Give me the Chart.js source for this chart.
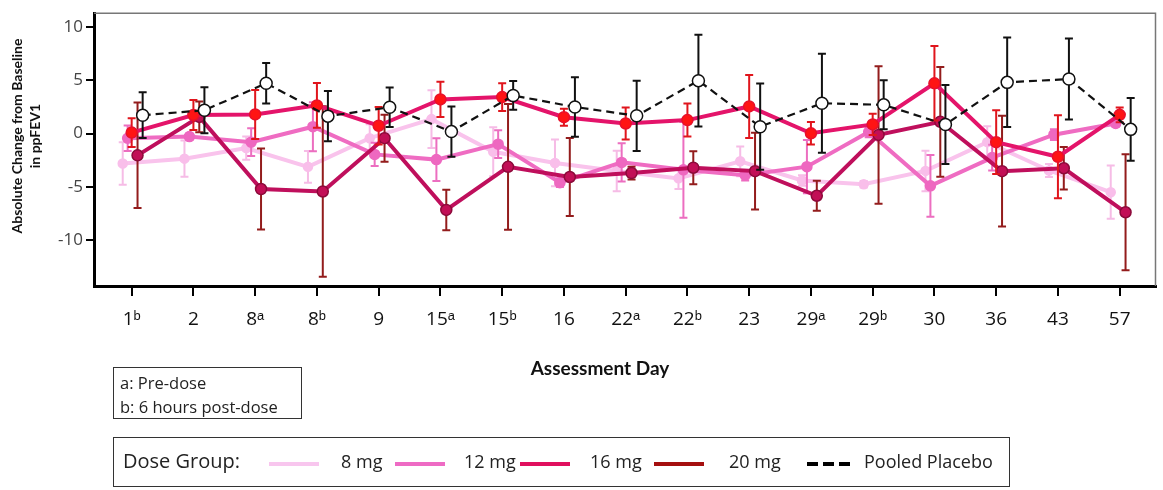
<!DOCTYPE html>
<html><head><meta charset="utf-8">
<script src="https://cdn.jsdelivr.net/npm/chart.js@4"></script>
<style>
html,body{margin:0;padding:0;background:#fff;}
#wrap{position:relative;width:1163px;height:490px;overflow:hidden;font-family:'Open Sans',sans-serif;color:#111}
canvas{position:absolute;left:0;top:0}
.abs{position:absolute;white-space:nowrap}
#ytitle{left:-104px;top:118px;width:260px;height:36px;line-height:18px;text-align:center;transform:rotate(-90deg);font-family:Lato,sans-serif;font-weight:bold;font-size:14px;color:#111}
#xtitle{left:500px;top:356px;width:200px;text-align:center;font-family:Lato,sans-serif;font-weight:bold;font-size:19px;color:#111}
#foot{left:113px;top:367px;width:189px;height:52px;border:1px solid #333;box-sizing:border-box;font-size:16.5px;line-height:24px;padding:3px 0 0 6px;color:#222}
#leg{left:113px;top:437px;width:897px;height:50px;border:1px solid #333;box-sizing:border-box}
.lt{font-size:18px;top:11px;color:#222}
.ll{height:4px;top:24px;width:50px}
</style></head><body>
<div id="wrap">
<canvas id="c" width="1163" height="490"></canvas>
<div class="abs" id="ytitle">Absolute Change from Baseline<br>in ppFEV1</div>
<div class="abs" id="xtitle">Assessment Day</div>
<div class="abs" id="foot">a: Pre-dose<br>b: 6 hours post-dose</div>
<div class="abs" id="leg">
  <span class="abs lt" style="left:9px;font-size:20px;top:9px">Dose Group:</span>
  <span class="abs ll" style="left:155px;background:#F8C6EE"></span>
  <span class="abs lt" style="left:227px">8 mg</span>
  <span class="abs ll" style="left:281px;background:#EE6BC4"></span>
  <span class="abs lt" style="left:350px">12 mg</span>
  <span class="abs ll" style="left:406px;background:#E0105E"></span>
  <span class="abs lt" style="left:476px">16 mg</span>
  <span class="abs ll" style="left:540px;background:#A50F0F"></span>
  <span class="abs lt" style="left:615px">20 mg</span>
  <span class="abs ll" style="left:693px;width:43px;background:repeating-linear-gradient(90deg,#000 0 11px,transparent 11px 16px)"></span>
  <span class="abs lt" style="left:750px">Pooled Placebo</span>
</div>
</div>
<script>
const categories = ['1\u1D47','2','8\u1D43','8\u1D47','9','15\u1D43','15\u1D47','16','22\u1D43','22\u1D47','23','29\u1D43','29\u1D47','30','36','43','57'];

const dose8    = [-2.8, -2.35, -1.36, -3.12, -0.43, 1.36, -1.7, -2.75, -3.5, -4.2, -2.6, -4.4, -4.75, -3.5, -0.8, -3.46, -5.5];
const dose8Err = [2.0, 1.7, 1.1, 1.5, 1.3, 2.7, 2.3, 2.2, 1.9, 1.0, 1.4, 0.5, 0.3, 1.9, 1.5, 0.6, 2.5];

const dose12    = [-0.43, -0.28, -0.8, 0.65, -1.95, -2.44, -0.99, -4.6, -2.7, -3.4, -3.9, -3.1, 0.15, -4.9, -2.25, -0.1, 0.95];
const dose12Err = [1.2, 0.3, 1.3, 2.3, 1.1, 2.0, 1.3, 0.4, 1.8, 4.5, 0.5, 2.5, 0.5, 2.9, 1.2, 0.5, 0.3];

const dose16    = [0.1, 1.75, 1.8, 2.65, 0.74, 3.21, 3.43, 1.54, 0.95, 1.27, 2.55, 0.03, 0.86, 4.72, -0.8, -2.17, 1.76];
const dose16Err = [1.35, 1.4, 2.3, 2.1, 1.75, 1.65, 1.3, 0.8, 1.5, 1.55, 2.95, 1.05, 1.0, 3.5, 3.0, 3.9, 0.7];

const dose20    = [-2.04, 1.57, -5.2, -5.43, -0.43, -7.16, -3.12, -4.07, -3.7, -3.2, -3.52, -5.83, -0.12, 1.11, -3.52, -3.25, -7.38];
const dose20Err = [4.95, 1.45, 3.8, 8.0, 2.2, 1.9, 5.9, 3.65, 0.6, 1.55, 3.6, 1.4, 6.45, 5.15, 5.2, 2.0, 5.45];

const placebo    = [1.73, 2.19, 4.72, 1.64, 2.47, 0.19, 3.58, 2.5, 1.67, 4.97, 0.65, 2.85, 2.7, 0.86, 4.81, 5.12, 0.4];
const placeboErr = [2.15, 2.15, 1.9, 2.35, 1.85, 2.35, 1.35, 2.8, 3.3, 4.3, 4.05, 4.65, 2.3, 3.7, 4.2, 3.8, 2.95];

const styles = [
  {label:'8 mg', vals:dose8, err:dose8Err, line:'#F9C3EC', fill:'#F9BEEA', border:'#F9BEEA', bar:'#F6BCE6', dx:-0.145, r:4.5, w:4, order:4},
  {label:'12 mg', vals:dose12, err:dose12Err, line:'#EF6CC2', fill:'#EE68C0', border:'#EE68C0', bar:'#EC6EC0', dx:-0.065, r:5, w:4, order:3},
  {label:'16 mg', vals:dose16, err:dose16Err, line:'#E4146A', fill:'#FF1414', border:'#E8102A', bar:'#E0151C', dx:0.0, r:5.5, w:4, order:1},
  {label:'20 mg', vals:dose20, err:dose20Err, line:'#BF0F5C', fill:'#C20F56', border:'#8C0A3A', bar:'#931C1C', dx:0.095, r:5.5, w:4, order:2},
  {label:'Pooled Placebo', vals:placebo, err:placeboErr, line:'#111', fill:'#fff', border:'#111', bar:'#111', dx:0.178, r:6, w:2.2, dash:[8,5], order:0}
];

const errorBars = {
  id:'errorBars',
  beforeDatasetDraw(chart, args){
    const ds = chart.data.datasets[args.index];
    if(!ds.errors) return;
    const ctx = chart.ctx, xs = chart.scales.x, ys = chart.scales.y;
    ctx.save();
    ctx.strokeStyle = ds.barColor; ctx.lineWidth = 2; ctx.setLineDash([]);
    ds.data.forEach((p,i)=>{
      const px = xs.getPixelForValue(p.x);
      const yt = ys.getPixelForValue(p.y + ds.errors[i]);
      const yb = ys.getPixelForValue(p.y - ds.errors[i]);
      ctx.beginPath();
      ctx.moveTo(px,yt); ctx.lineTo(px,yb);
      ctx.moveTo(px-4,yt); ctx.lineTo(px+4,yt);
      ctx.moveTo(px-4,yb); ctx.lineTo(px+4,yb);
      ctx.stroke();
    });
    ctx.restore();
  }
};
const frame = {
  id:'frame',
  beforeDatasetsDraw(chart){
    const {ctx, chartArea:a} = chart;
    ctx.save(); ctx.strokeStyle='#777'; ctx.lineWidth=1.5;
    ctx.beginPath(); ctx.moveTo(a.left,a.top); ctx.lineTo(a.right,a.top); ctx.lineTo(a.right,a.bottom); ctx.stroke();
    ctx.restore();
  }
};

const datasets = styles.map(s=>({
  label:s.label,
  data:s.vals.map((v,i)=>({x:i+s.dx, y:v})),
  errors:s.err, barColor:s.bar,
  borderColor:s.line, borderWidth:s.w, borderDash:s.dash||[],
  pointRadius:s.r, pointBackgroundColor:s.fill, pointBorderColor:s.border, pointBorderWidth:1.5,
  tension:0, fill:false, order:s.order
}));

new Chart(document.getElementById('c'), {
  type:'line',
  data:{datasets},
  plugins:[frame, errorBars],
  options:{
    responsive:false, animation:false,
    layout:{padding:{top:10,right:4,left:0,bottom:0}},
    plugins:{legend:{display:false}, tooltip:{enabled:false}},
    scales:{
      x:{type:'linear', min:-0.61, max:16.58,
        afterFit(s){s.height=204;},
        grid:{drawOnChartArea:false, tickLength:10, color:'#000', lineWidth:2},
        border:{color:'#000', width:3},
        ticks:{stepSize:1, autoSkip:false, includeBounds:false, maxTicksLimit:30, maxRotation:0, padding:12, color:'#111',
          font:{family:"'Liberation Sans Narrow','Open Sans',sans-serif", size:19},
          callback:(v)=>categories[Math.round(v)] ?? ''}
      },
      y:{min:-14.3, max:11.3,
        afterFit(s){s.width=94;},
        grid:{drawOnChartArea:false, tickLength:8, color:'#000', lineWidth:2},
        border:{color:'#000', width:3},
        ticks:{stepSize:5, includeBounds:false, padding:3, color:'#444', font:{family:"'Open Sans',sans-serif", size:17}}
      }
    }
  }
});
</script>
</body></html>
